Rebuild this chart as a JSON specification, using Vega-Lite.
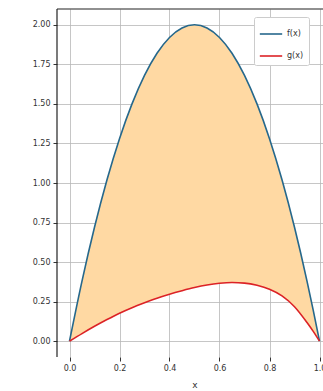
{
  "$schema": "https://vega.github.io/schema/vega-lite/v6.json",
  "autosize": {"type": "none"},
  "padding": {"left": 57, "top": 9, "right": 0, "bottom": 34},
  "width": 275,
  "height": 348,
  "background": "white",
  "config": {
    "view": {"stroke": null},
    "font": "DejaVu Sans",
    "axis": {
      "labelFont": "DejaVu Sans",
      "labelFontSize": 8,
      "labelColor": "#333",
      "tickColor": "#333",
      "tickSize": 4,
      "gridColor": "#b8b8b8",
      "gridWidth": 0.8,
      "domain": false
    }
  },
  "data": {
    "values": [
      {"x": 0.00, "f": 0.00, "g": 0.000},
      {"x": 0.05, "f": 0.38, "g": 0.048},
      {"x": 0.10, "f": 0.72, "g": 0.094},
      {"x": 0.15, "f": 1.02, "g": 0.137},
      {"x": 0.20, "f": 1.28, "g": 0.177},
      {"x": 0.25, "f": 1.50, "g": 0.212},
      {"x": 0.30, "f": 1.68, "g": 0.243},
      {"x": 0.35, "f": 1.82, "g": 0.272},
      {"x": 0.40, "f": 1.92, "g": 0.297},
      {"x": 0.45, "f": 1.98, "g": 0.319},
      {"x": 0.50, "f": 2.00, "g": 0.339},
      {"x": 0.55, "f": 1.98, "g": 0.355},
      {"x": 0.60, "f": 1.92, "g": 0.366},
      {"x": 0.65, "f": 1.82, "g": 0.371},
      {"x": 0.70, "f": 1.68, "g": 0.367},
      {"x": 0.75, "f": 1.50, "g": 0.353},
      {"x": 0.80, "f": 1.28, "g": 0.328},
      {"x": 0.85, "f": 1.02, "g": 0.286},
      {"x": 0.90, "f": 0.72, "g": 0.218},
      {"x": 0.95, "f": 0.38, "g": 0.118},
      {"x": 0.975, "f": 0.195, "g": 0.062},
      {"x": 1.00, "f": 0.00, "g": 0.000}
    ]
  },
  "layer": [
    {
      "mark": {"type": "area", "color": "#ffd9a3", "opacity": 1, "interpolate": "monotone"},
      "encoding": {
        "x": {"field": "x", "type": "quantitative", "scale": {"domain": [-0.05, 1.05], "nice": false, "zero": false},
              "axis": {"values": [0, 0.2, 0.4, 0.6, 0.8, 1.0], "format": ".1f", "title": "x", "titleFontSize": 9, "titleFontWeight": "normal", "titleColor": "#333", "titlePadding": 8, "labelPadding": 3}},
        "y": {"field": "f", "type": "quantitative", "scale": {"domain": [-0.1, 2.1], "nice": false, "zero": false},
              "axis": {"values": [0, 0.25, 0.5, 0.75, 1.0, 1.25, 1.5, 1.75, 2.0], "format": ".2f", "title": null, "labelPadding": 3}},
        "y2": {"field": "g"}
      }
    },
    {
      "transform": [{"fold": ["f", "g"], "as": ["fn", "val"]}],
      "mark": {"type": "line", "strokeWidth": 1.6, "interpolate": "monotone"},
      "encoding": {
        "x": {"field": "x", "type": "quantitative"},
        "y": {"field": "val", "type": "quantitative"},
        "color": {
          "field": "fn", "type": "nominal",
          "scale": {"domain": ["f", "g"], "range": ["#26688c", "#dc2226"]},
          "legend": {
            "title": null,
            "orient": "none",
            "legendX": 197,
            "legendY": 8,
            "labelExpr": "datum.label + '(x)'",
            "symbolType": "stroke",
            "symbolSize": 500,
            "symbolStrokeWidth": 1.6,
            "labelFontSize": 8,
            "labelColor": "#333",
            "rowPadding": 6,
            "padding": 5,
            "strokeColor": "#cccccc",
            "fillColor": "white",
            "cornerRadius": 2
          }
        }
      }
    },
    {
      "mark": {"type": "rule", "color": "#222", "strokeWidth": 1.2},
      "data": {"values": [{"a": -0.05, "b": 1.05, "y": 2.1}]},
      "encoding": {
        "x": {"field": "a", "type": "quantitative"},
        "x2": {"field": "b"},
        "y": {"field": "y", "type": "quantitative"}
      }
    },
    {
      "mark": {"type": "rule", "color": "#222", "strokeWidth": 1.2},
      "data": {"values": [{"x": -0.05, "a": -0.1, "b": 2.1}]},
      "encoding": {
        "x": {"field": "x", "type": "quantitative"},
        "y": {"field": "a", "type": "quantitative"},
        "y2": {"field": "b"}
      }
    }
  ]
}
